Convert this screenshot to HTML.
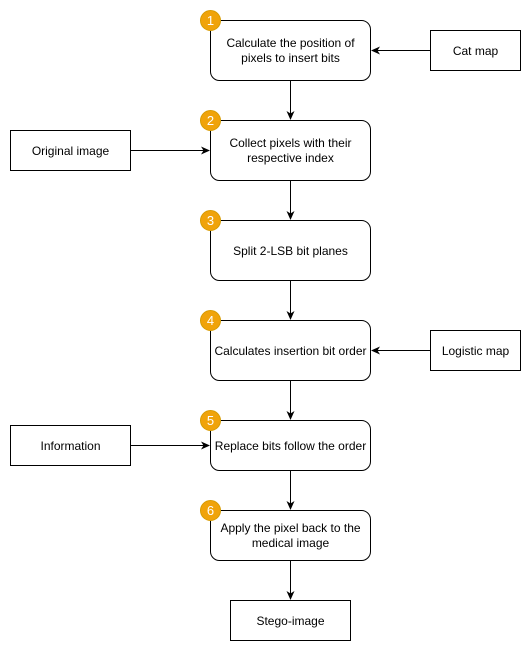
<!DOCTYPE html>
<html><head><meta charset="utf-8"><style>
html,body{margin:0;padding:0;background:#fff;}
svg{display:block;}
text{font-family:"Liberation Sans",Arial,sans-serif;font-size:12px;fill:#000;}
</style></head><body>
<svg width="531" height="651" viewBox="0 0 531 651" xmlns="http://www.w3.org/2000/svg">
<defs><marker id="a" markerWidth="10" markerHeight="10" refX="8" refY="5" orient="auto" markerUnits="userSpaceOnUse"><path d="M0,1 L9,5 L0,9 L2.5,5 Z" fill="#000"/></marker></defs>
<g fill="#fff" stroke="#000" stroke-width="1">
<rect x="210.5" y="20.5" width="160" height="60" rx="9"/>
<rect x="210.5" y="120.5" width="160" height="60" rx="9"/>
<rect x="210.5" y="220.5" width="160" height="60" rx="9"/>
<rect x="210.5" y="320.5" width="160" height="60" rx="9"/>
<rect x="210.5" y="420.5" width="160" height="50" rx="9"/>
<rect x="210.5" y="510.5" width="160" height="50" rx="9"/>
<rect x="230.5" y="600.5" width="120" height="40"/>
<rect x="430.5" y="30.5" width="90" height="40"/>
<rect x="10.5" y="130.5" width="120" height="40"/>
<rect x="430.5" y="330.5" width="90" height="40"/>
<rect x="10.5" y="425.5" width="120" height="40"/>
</g>
<g stroke="#000" stroke-width="1" fill="none" marker-end="url(#a)">
<line x1="290.5" y1="80.5" x2="290.5" y2="119"/>
<line x1="290.5" y1="180.5" x2="290.5" y2="219"/>
<line x1="290.5" y1="280.5" x2="290.5" y2="319"/>
<line x1="290.5" y1="380.5" x2="290.5" y2="419"/>
<line x1="290.5" y1="470.5" x2="290.5" y2="509"/>
<line x1="290.5" y1="560.5" x2="290.5" y2="599"/>
<line x1="430.5" y1="50.5" x2="372" y2="50.5"/>
<line x1="130.5" y1="150.5" x2="209" y2="150.5"/>
<line x1="430.5" y1="350.5" x2="372" y2="350.5"/>
<line x1="130.5" y1="445.5" x2="209" y2="445.5"/>
</g>
<g fill="#F0A30A" stroke="#D79B00" stroke-width="1">
<circle cx="210.5" cy="20.5" r="10"/><circle cx="210.5" cy="120.5" r="10"/><circle cx="210.5" cy="220.5" r="10"/>
<circle cx="210.5" cy="320.5" r="10"/><circle cx="210.5" cy="420.5" r="10"/><circle cx="210.5" cy="510.5" r="10"/>
</g>
<g text-anchor="middle">
<text x="210.5" y="25" style="fill:#fff;font-size:13px">1</text>
<text x="210.5" y="125" style="fill:#fff;font-size:13px">2</text>
<text x="210.5" y="225" style="fill:#fff;font-size:13px">3</text>
<text x="210.5" y="325" style="fill:#fff;font-size:13px">4</text>
<text x="210.5" y="425" style="fill:#fff;font-size:13px">5</text>
<text x="210.5" y="515" style="fill:#fff;font-size:13px">6</text>
<text x="290.5" y="47">Calculate the position of</text>
<text x="290.5" y="62">pixels to insert bits</text>
<text x="290.5" y="147">Collect pixels with their</text>
<text x="290.5" y="162">respective index</text>
<text x="290.5" y="255">Split 2-LSB bit planes</text>
<text x="290.5" y="355">Calculates insertion bit order</text>
<text x="290.5" y="450">Replace bits follow the order</text>
<text x="290.5" y="532">Apply the pixel back to the</text>
<text x="290.5" y="547">medical image</text>
<text x="290.5" y="625">Stego-image</text>
<text x="475.5" y="55">Cat map</text>
<text x="70.5" y="155">Original image</text>
<text x="475.5" y="355">Logistic map</text>
<text x="70.5" y="450">Information</text>
</g>
</svg>
</body></html>
